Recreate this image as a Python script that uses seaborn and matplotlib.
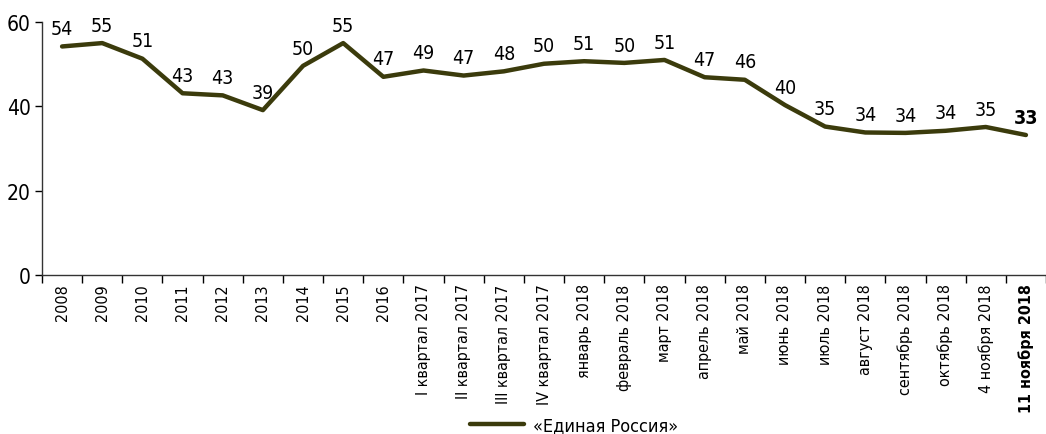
import numpy as np
import pandas as pd
import matplotlib
matplotlib.use('Agg')
import matplotlib.pyplot as plt
import seaborn as sns

# Data
periods = ['2008', '2009', '2010', '2011', '2012', '2013', '2014', '2015', '2016',
           'I квартал 2017', 'II квартал 2017', 'III квартал 2017', 'IV квартал 2017',
           'январь 2018', 'февраль 2018', 'март 2018', 'апрель 2018', 'май 2018',
           'июнь 2018', 'июль 2018', 'август 2018', 'сентябрь 2018', 'октябрь 2018',
           '4 ноября 2018', '11 ноября 2018']
values = [54.2, 55.0, 51.3, 43.1, 42.6, 39.1, 49.6, 55.0, 47.0,
          48.5, 47.3, 48.3, 50.1, 50.7, 50.3, 51.0, 46.9, 46.3,
          40.3, 35.2, 33.8, 33.7, 34.2, 35.1, 33.2]
labels = [54, 55, 51, 43, 43, 39, 50, 55, 47, 49, 47, 48, 50, 51, 50, 51, 47, 46,
          40, 35, 34, 34, 34, 35, 33]
series_name = '«Единая Россия»'

df = pd.DataFrame({'period': periods, 'value': values, 'x': range(len(periods))})

sns.set_style('white')
plt.rcParams['font.family'] = ['DejaVu Sans']
plt.rcParams['font.stretch'] = 'condensed'
plt.rcParams['text.color'] = 'black'
plt.rcParams['xtick.color'] = 'black'
plt.rcParams['ytick.color'] = 'black'

color = '#3b3b0c'

fig = plt.figure(figsize=(10.46, 4.35), dpi=100)
ax = fig.add_axes([42 / 1046, 1 - 276 / 435, 1004 / 1046, 253 / 435])

sns.lineplot(data=df, x='x', y='value', ax=ax, color=color, linewidth=3.2,
             label=series_name)

for i, (v, lab) in enumerate(zip(values, labels)):
    bold = i == len(values) - 1
    ax.annotate(str(lab), (i, v), xytext=(0, 6), textcoords='offset points',
                ha='center', va='bottom', fontsize=14,
                fontweight='bold' if bold else 'normal')

ax.set_xlim(-0.5, len(periods) - 0.5)
ax.set_ylim(0, 60)
ax.set_yticks([0, 20, 40, 60])
ax.tick_params(axis='y', labelsize=15, length=5, width=1, direction='out', left=True, pad=3)

# category labels at centers, tick marks at category boundaries
ax.set_xticks(range(len(periods)))
ax.set_xticklabels(periods, rotation=90, fontsize=11.5)
ax.tick_params(axis='x', length=0, pad=6)
ax.set_xticks(np.arange(-0.5, len(periods), 1), minor=True)
ax.tick_params(axis='x', which='minor', length=6, width=1, direction='out', bottom=True)
ax.get_xticklabels()[-1].set_fontweight('bold')

ax.set_xlabel('')
ax.set_ylabel('')
for s in ['top', 'right']:
    ax.spines[s].set_visible(False)
for s in ['left', 'bottom']:
    ax.spines[s].set_color('#333333')
    ax.spines[s].set_linewidth(1)

ax.legend(loc='center', bbox_to_anchor=(0.53, -0.595), frameon=False, fontsize=13,
          handlelength=3.0, handletextpad=0.5)

fig.savefig('out.png', dpi=100)
